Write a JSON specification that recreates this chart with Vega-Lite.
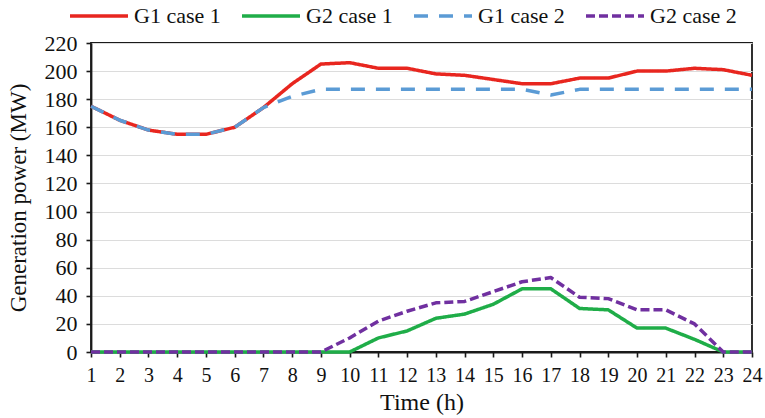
{
  "$schema": "https://vega.github.io/schema/vega-lite/v6.json",
  "width": 661,
  "height": 309,
  "autosize": {"type": "none"},
  "padding": {"left": 91, "top": 43, "right": 13, "bottom": 66},
  "background": "#ffffff",
  "config": {
    "font": "Liberation Serif",
    "view": {"stroke": "#1a1a1a", "strokeWidth": 1.8}
  },
  "data": {
    "values": [
      {"hour": 1, "series": "G1 case 1", "power": 175},
      {"hour": 2, "series": "G1 case 1", "power": 165},
      {"hour": 3, "series": "G1 case 1", "power": 158},
      {"hour": 4, "series": "G1 case 1", "power": 155},
      {"hour": 5, "series": "G1 case 1", "power": 155},
      {"hour": 6, "series": "G1 case 1", "power": 160},
      {"hour": 7, "series": "G1 case 1", "power": 174},
      {"hour": 8, "series": "G1 case 1", "power": 191},
      {"hour": 9, "series": "G1 case 1", "power": 205},
      {"hour": 10, "series": "G1 case 1", "power": 206},
      {"hour": 11, "series": "G1 case 1", "power": 202},
      {"hour": 12, "series": "G1 case 1", "power": 202},
      {"hour": 13, "series": "G1 case 1", "power": 198},
      {"hour": 14, "series": "G1 case 1", "power": 197},
      {"hour": 15, "series": "G1 case 1", "power": 194},
      {"hour": 16, "series": "G1 case 1", "power": 191},
      {"hour": 17, "series": "G1 case 1", "power": 191},
      {"hour": 18, "series": "G1 case 1", "power": 195},
      {"hour": 19, "series": "G1 case 1", "power": 195},
      {"hour": 20, "series": "G1 case 1", "power": 200},
      {"hour": 21, "series": "G1 case 1", "power": 200},
      {"hour": 22, "series": "G1 case 1", "power": 202},
      {"hour": 23, "series": "G1 case 1", "power": 201},
      {"hour": 24, "series": "G1 case 1", "power": 197},

      {"hour": 1, "series": "G2 case 1", "power": 0},
      {"hour": 2, "series": "G2 case 1", "power": 0},
      {"hour": 3, "series": "G2 case 1", "power": 0},
      {"hour": 4, "series": "G2 case 1", "power": 0},
      {"hour": 5, "series": "G2 case 1", "power": 0},
      {"hour": 6, "series": "G2 case 1", "power": 0},
      {"hour": 7, "series": "G2 case 1", "power": 0},
      {"hour": 8, "series": "G2 case 1", "power": 0},
      {"hour": 9, "series": "G2 case 1", "power": 0},
      {"hour": 10, "series": "G2 case 1", "power": 0},
      {"hour": 11, "series": "G2 case 1", "power": 10},
      {"hour": 12, "series": "G2 case 1", "power": 15},
      {"hour": 13, "series": "G2 case 1", "power": 24},
      {"hour": 14, "series": "G2 case 1", "power": 27},
      {"hour": 15, "series": "G2 case 1", "power": 34},
      {"hour": 16, "series": "G2 case 1", "power": 45},
      {"hour": 17, "series": "G2 case 1", "power": 45},
      {"hour": 18, "series": "G2 case 1", "power": 31},
      {"hour": 19, "series": "G2 case 1", "power": 30},
      {"hour": 20, "series": "G2 case 1", "power": 17},
      {"hour": 21, "series": "G2 case 1", "power": 17},
      {"hour": 22, "series": "G2 case 1", "power": 9},
      {"hour": 23, "series": "G2 case 1", "power": 0},
      {"hour": 24, "series": "G2 case 1", "power": 0},

      {"hour": 1, "series": "G1 case 2", "power": 175},
      {"hour": 2, "series": "G1 case 2", "power": 165},
      {"hour": 3, "series": "G1 case 2", "power": 158},
      {"hour": 4, "series": "G1 case 2", "power": 155},
      {"hour": 5, "series": "G1 case 2", "power": 155},
      {"hour": 6, "series": "G1 case 2", "power": 160},
      {"hour": 7, "series": "G1 case 2", "power": 174},
      {"hour": 8, "series": "G1 case 2", "power": 182},
      {"hour": 9, "series": "G1 case 2", "power": 187},
      {"hour": 10, "series": "G1 case 2", "power": 187},
      {"hour": 11, "series": "G1 case 2", "power": 187},
      {"hour": 12, "series": "G1 case 2", "power": 187},
      {"hour": 13, "series": "G1 case 2", "power": 187},
      {"hour": 14, "series": "G1 case 2", "power": 187},
      {"hour": 15, "series": "G1 case 2", "power": 187},
      {"hour": 16, "series": "G1 case 2", "power": 187},
      {"hour": 17, "series": "G1 case 2", "power": 183},
      {"hour": 18, "series": "G1 case 2", "power": 187},
      {"hour": 19, "series": "G1 case 2", "power": 187},
      {"hour": 20, "series": "G1 case 2", "power": 187},
      {"hour": 21, "series": "G1 case 2", "power": 187},
      {"hour": 22, "series": "G1 case 2", "power": 187},
      {"hour": 23, "series": "G1 case 2", "power": 187},
      {"hour": 24, "series": "G1 case 2", "power": 187},

      {"hour": 1, "series": "G2 case 2", "power": 0},
      {"hour": 2, "series": "G2 case 2", "power": 0},
      {"hour": 3, "series": "G2 case 2", "power": 0},
      {"hour": 4, "series": "G2 case 2", "power": 0},
      {"hour": 5, "series": "G2 case 2", "power": 0},
      {"hour": 6, "series": "G2 case 2", "power": 0},
      {"hour": 7, "series": "G2 case 2", "power": 0},
      {"hour": 8, "series": "G2 case 2", "power": 0},
      {"hour": 9, "series": "G2 case 2", "power": 0},
      {"hour": 10, "series": "G2 case 2", "power": 10},
      {"hour": 11, "series": "G2 case 2", "power": 22},
      {"hour": 12, "series": "G2 case 2", "power": 29},
      {"hour": 13, "series": "G2 case 2", "power": 35},
      {"hour": 14, "series": "G2 case 2", "power": 36},
      {"hour": 15, "series": "G2 case 2", "power": 43},
      {"hour": 16, "series": "G2 case 2", "power": 50},
      {"hour": 17, "series": "G2 case 2", "power": 53},
      {"hour": 18, "series": "G2 case 2", "power": 39},
      {"hour": 19, "series": "G2 case 2", "power": 38},
      {"hour": 20, "series": "G2 case 2", "power": 30},
      {"hour": 21, "series": "G2 case 2", "power": 30},
      {"hour": 22, "series": "G2 case 2", "power": 20},
      {"hour": 23, "series": "G2 case 2", "power": 0},
      {"hour": 24, "series": "G2 case 2", "power": 0}
    ]
  },
  "mark": {"type": "line", "strokeWidth": 3.5, "strokeCap": "butt", "strokeJoin": "round"},
  "encoding": {
    "x": {
      "field": "hour",
      "type": "quantitative",
      "scale": {"domain": [1, 24], "nice": false, "zero": false},
      "axis": {
        "title": "Time (h)",
        "values": [1, 2, 3, 4, 5, 6, 7, 8, 9, 10, 11, 12, 13, 14, 15, 16, 17, 18, 19, 20, 21, 22, 23, 24],
        "format": "d",
        "grid": false,
        "domainColor": "#1a1a1a",
        "domainWidth": 1.8,
        "tickColor": "#1a1a1a",
        "tickWidth": 1.6,
        "tickSize": 5,
        "labelFont": "Liberation Serif",
        "labelFontSize": 20,
        "labelColor": "#111111",
        "labelPadding": 8,
        "labelFlush": false,
        "labelOverlap": false,
        "titleFont": "Liberation Serif",
        "titleFontSize": 24,
        "titleFontWeight": "normal",
        "titleColor": "#111111",
        "titlePadding": 5
      }
    },
    "y": {
      "field": "power",
      "type": "quantitative",
      "scale": {"domain": [0, 220], "nice": false},
      "axis": {
        "title": "Generation power (MW)",
        "values": [0, 20, 40, 60, 80, 100, 120, 140, 160, 180, 200, 220],
        "grid": true,
        "gridColor": "#dcdcdc",
        "gridWidth": 1,
        "domainColor": "#1a1a1a",
        "domainWidth": 1.8,
        "tickColor": "#1a1a1a",
        "tickWidth": 1.6,
        "tickSize": 5,
        "labelFont": "Liberation Serif",
        "labelFontSize": 22,
        "labelColor": "#111111",
        "labelPadding": 9,
        "labelFlush": false,
        "titleFont": "Liberation Serif",
        "titleFontSize": 23,
        "titleFontWeight": "normal",
        "titleColor": "#111111",
        "titlePadding": 14
      }
    },
    "color": {
      "field": "series",
      "type": "nominal",
      "scale": {
        "domain": ["G1 case 1", "G2 case 1", "G1 case 2", "G2 case 2"],
        "range": ["#e8261f", "#1fad48", "#5b9bd5", "#7030a0"]
      },
      "legend": {
        "title": null,
        "orient": "none",
        "direction": "horizontal",
        "legendX": -23,
        "legendY": -58,
        "symbolType": "stroke",
        "symbolSize": 3364,
        "symbolStrokeWidth": 3.5,
        "labelFont": "Liberation Serif",
        "labelFontSize": 22,
        "labelColor": "#111111",
        "labelOffset": 4,
        "columnPadding": 14
      }
    },
    "strokeDash": {
      "field": "series",
      "type": "nominal",
      "scale": {
        "domain": ["G1 case 1", "G2 case 1", "G1 case 2", "G2 case 2"],
        "range": [[1, 0], [1, 0], [14, 11], [9, 4]]
      },
      "legend": null
    }
  }
}
